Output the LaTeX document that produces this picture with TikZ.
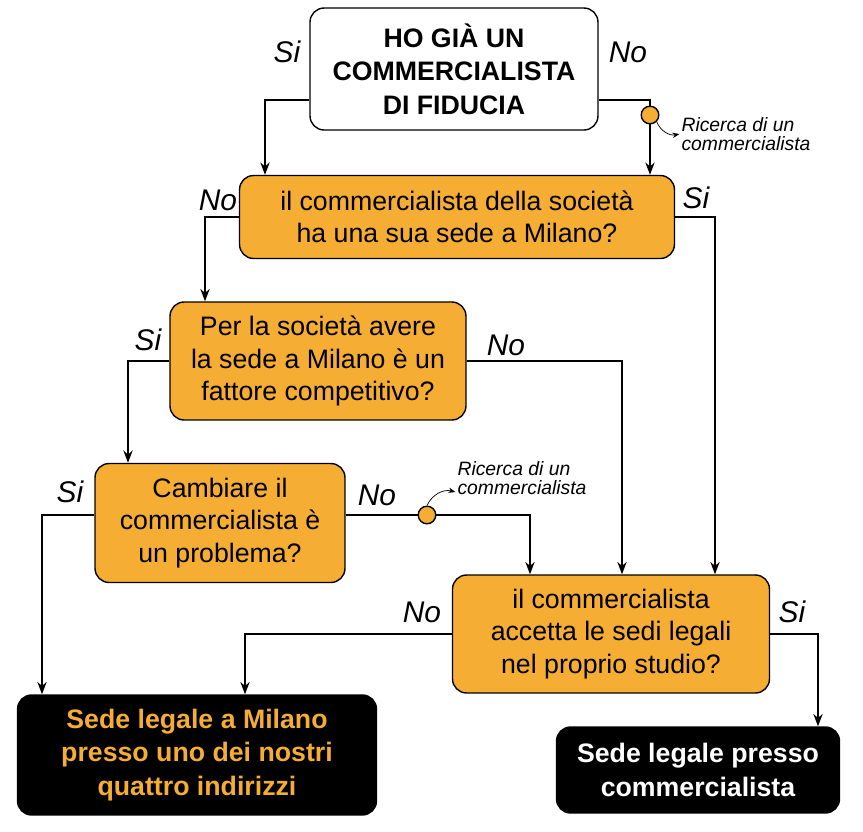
\documentclass[tikz,border=0pt]{standalone}
\usepackage{fontspec}
\setmainfont{Liberation Sans}
\usetikzlibrary{positioning, arrows.meta}
\definecolor{arancio}{HTML}{F5AD33}
\begin{document}
\begin{tikzpicture}[x=0.02cm, y=-0.02cm,
  box/.style={draw, thick, rounded corners=8pt, align=center, font=\fontsize{15.2}{18.5}\selectfont, inner sep=2pt},
  quest/.style={box, fill=arancio},
  final/.style={box, fill=black, font=\bfseries\fontsize{15.2}{19}\selectfont},
  arr/.style={-{Stealth[length=7pt]}, semithick, line width=1.2pt},
  lab/.style={font=\itshape\fontsize{17}{19}\selectfont},
  note/.style={font=\itshape\fontsize{11}{11}\selectfont, align=left, inner sep=1pt},
  dot/.style={circle, draw, thick, fill=arancio, inner sep=0pt, minimum size=10pt}]
  \useasboundingbox (0,0) rectangle (863,832);
  \node[box, minimum width=5.76cm, minimum height=2.44cm, font=\bfseries\fontsize{15.2}{19}\selectfont] (fid) at (454,69) {HO GIÀ UN\\COMMERCIALISTA\\DI FIDUCIA};
  \node[quest, minimum width=8.7cm, minimum height=1.66cm] (mil) at (457,217) {il commercialista della società\\ha una sua sede a Milano?};
  \node[quest, minimum width=5.92cm, minimum height=2.36cm] (comp) at (318,361) {Per la società avere\\la sede a Milano è un\\fattore competitivo?};
  \node[quest, minimum width=5cm, minimum height=2.38cm] (camb) at (220,523) {Cambiare il\\commercialista è\\un problema?};
  \node[quest, minimum width=6.34cm, minimum height=2.36cm] (acc) at (611,634) {il commercialista\\accetta le sedi legali\\nel proprio studio?};
  \node[final, text=arancio, minimum width=7.18cm, minimum height=2.4cm] (nostri) at (197,755) {Sede legale a Milano\\presso uno dei nostri\\quattro indirizzi};
  \node[final, text=white, minimum width=5.66cm, minimum height=1.72cm] (presso) at (698,770) {Sede legale presso\\commercialista};

  \draw[arr] (fid.west |- 0,100) -| (mil.north -| 265,0);
  \draw[arr] (fid.east |- 0,100) -| (mil.north -| 650,0);
  \draw[arr] (mil.west) -| (comp.north -| 205,0);
  \draw[arr] (mil.east) -| (acc.north -| 715,0);
  \draw[arr] (comp.west) -| (camb.north -| 128,0);
  \draw[arr] (comp.east) -| (acc.north -| 622,0);
  \draw[arr] (camb.west |- 0,515) -| (nostri.north -| 42,0);
  \draw[arr] (camb.east |- 0,515) -| (acc.north -| 530,0);
  \draw[arr] (acc.west) -| (nostri.north -| 245,0);
  \draw[arr] (acc.east) -| (presso.north -| 818,0);

  \node[lab] at (287,52) {Si};
  \node[lab] at (628,52) {No};
  \node[lab] at (218,200) {No};
  \node[lab] at (696,198) {Si};
  \node[lab] at (148,340) {Si};
  \node[lab] at (506,345) {No};
  \node[lab] at (70,492) {Si};
  \node[lab] at (377,495) {No};
  \node[lab] at (422,612) {No};
  \node[lab] at (792,612) {Si};

  \node[dot] (d1) at (650,115) {};
  \node[note] (r1) at (746,134) {Ricerca di un\\commercialista};
  \draw[-{Stealth[length=4pt]}] (d1.south east) to[bend right=40] (r1.west);
  \node[dot] (d2) at (427,515) {};
  \node[note] (r2) at (522,478) {Ricerca di un\\commercialista};
  \draw[-{Stealth[length=4pt]}] (d2.north) to[bend left=40] (r2.west |- 0,492);
\end{tikzpicture}
\end{document}
